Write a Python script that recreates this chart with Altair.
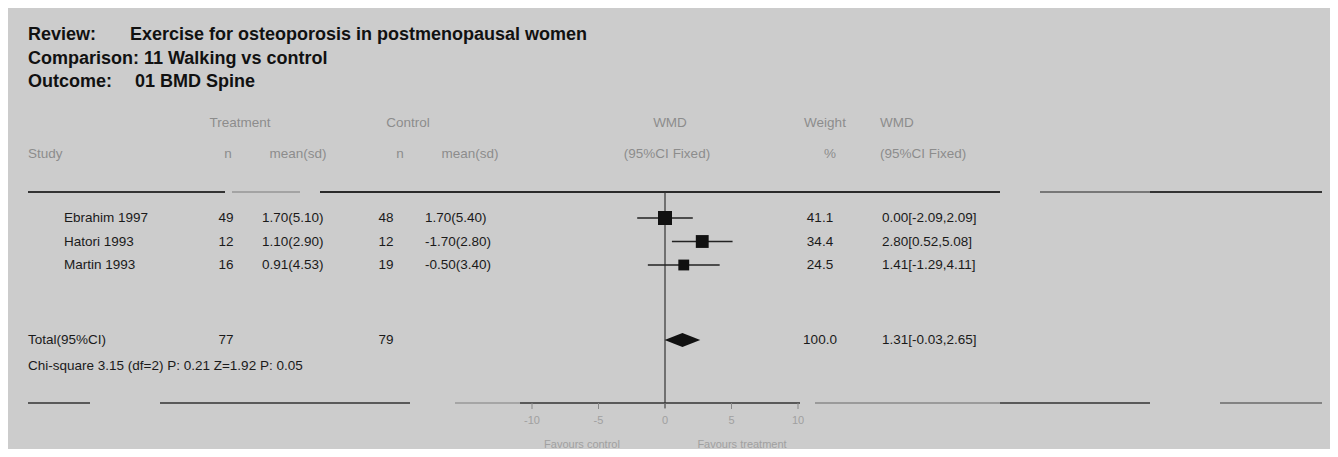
import altair as alt
import pandas as pd

# ---------------- data ----------------
studies = ["Ebrahim 1997", "Hatori 1993", "Martin 1993"]
trt_n = [49, 12, 16]
trt_mean = [1.70, 1.10, 0.91]
trt_sd = [5.10, 2.90, 4.53]
ctl_n = [48, 12, 19]
ctl_mean = [1.70, -1.70, -0.50]
ctl_sd = [5.40, 2.80, 3.40]
wmd = [0.00, 2.80, 1.41]
wmd_lo = [-2.09, 0.52, -1.29]
wmd_hi = [2.09, 5.08, 4.11]
weight = [41.1, 34.4, 24.5]

total_label = "Total(95%CI)"
total_trt_n = 77
total_ctl_n = 79
total_wmd = 1.31
total_lo = -0.03
total_hi = 2.65
total_weight = 100.0
heterogeneity = "Chi-square 3.15 (df=2) P: 0.21  Z=1.92 P: 0.05"

axis_ticks = [-10, -5, 0, 5, 10]
favours_left = "Favours control"
favours_right = "Favours treatment"

title_lines = [("Review:", "Exercise for osteoporosis in postmenopausal women"),
               ("Comparison: 11 Walking vs control", ""),
               ("Outcome:", "01 BMD Spine")]

# ---------------- layout ----------------
W, H = 1322, 441
M = 8  # page margin offset
BG = "#cccccc"
FONT = "Liberation Sans"
DARK = "#1a1a1a"
FAINT = "#8c8c8c"
BODY = 13.5

xscale = alt.Scale(domain=[-10, 10], range=[532 - M, 798 - M], nice=False, zero=False)
ROW_PX = 23.5
Y0 = 218 - M
yscale = alt.Scale(domain=[1, 3], range=[Y0, Y0 + 2 * ROW_PX], nice=False, zero=False)


def row_of(page_y):
    return 1 + (page_y - M - Y0) / ROW_PX


rows = [1, 2, 3]
total_row = row_of(340)

one = pd.DataFrame({"a": [0]})


def label(text, x, y, size=BODY, color=DARK, align="left", weight="normal"):
    return alt.Chart(pd.DataFrame({"t": [text]})).mark_text(
        align=align, baseline="middle", font=FONT, fontSize=size,
        color=color, fontWeight=weight
    ).encode(x=alt.value(x - M), y=alt.value(y - M), text="t:N")


def hrule(x1, x2, y, color="#333333", width=1.6, opacity=1.0):
    return alt.Chart(one).mark_rule(color=color, strokeWidth=width, opacity=opacity).encode(
        x=alt.value(x1 - M), x2=alt.value(x2 - M), y=alt.value(y - M))


layers = []

# titles
TS = 18
layers.append(label(title_lines[0][0], 28, 35, size=TS, color="#111111", weight="bold"))
layers.append(label(title_lines[0][1], 130, 35, size=TS, color="#111111", weight="bold"))
layers.append(label(title_lines[1][0], 28, 59, size=TS, color="#111111", weight="bold"))
layers.append(label(title_lines[2][0], 28, 82, size=TS, color="#111111", weight="bold"))
layers.append(label(title_lines[2][1], 135, 82, size=TS, color="#111111", weight="bold"))

# column headers (faint)
HS = 13.5
layers += [
    label("Treatment", 240, 123, color=FAINT, align="center", size=HS),
    label("Control", 408, 123, color=FAINT, align="center", size=HS),
    label("WMD", 670, 123, color=FAINT, align="center", size=HS),
    label("Weight", 825, 123, color=FAINT, align="center", size=HS),
    label("WMD", 880, 123, color=FAINT, size=HS),
    label("Study", 28, 154, color=FAINT, size=HS),
    label("n", 228, 154, color=FAINT, align="center", size=HS),
    label("mean(sd)", 298, 154, color=FAINT, align="center", size=HS),
    label("n", 400, 154, color=FAINT, align="center", size=HS),
    label("mean(sd)", 470, 154, color=FAINT, align="center", size=HS),
    label("(95%CI Fixed)", 667, 154, color=FAINT, align="center", size=HS),
    label("%", 830, 154, color=FAINT, align="center", size=HS),
    label("(95%CI Fixed)", 880, 154, color=FAINT, size=HS),
]

# separator lines (scanned look)
for a, b, c, o in [(28, 225, "#333333", 1.0), (232, 300, "#999999", 0.8),
                   (320, 1000, "#2a2a2a", 1.0), (1040, 1150, "#777777", 1.0),
                   (1150, 1322, "#333333", 1.0)]:
    layers.append(hrule(a, b, 192, color=c, opacity=o, width=1.8))
for a, b, c, o in [(28, 90, "#333333", 1.0), (160, 410, "#333333", 1.0),
                   (455, 520, "#999999", 1.0), (520, 800, "#333333", 1.0),
                   (815, 1000, "#8a8a8a", 1.0), (1000, 1150, "#333333", 1.0),
                   (1220, 1322, "#6a6a6a", 1.0)]:
    layers.append(hrule(a, b, 403, color=c, opacity=o, width=1.6))

# study table
tbl = pd.DataFrame({
    "row": rows,
    "study": studies,
    "tn": [str(v) for v in trt_n],
    "tms": [f"{m:.2f}({s:.2f})" for m, s in zip(trt_mean, trt_sd)],
    "cn": [str(v) for v in ctl_n],
    "cms": [f"{m:.2f}({s:.2f})" for m, s in zip(ctl_mean, ctl_sd)],
    "w": [f"{v:.1f}" for v in weight],
    "ci": [f"{e:.2f}[{l:.2f},{h:.2f}]" for e, l, h in zip(wmd, wmd_lo, wmd_hi)],
    "wmd": wmd, "lo": wmd_lo, "hi": wmd_hi, "weight": weight,
})

Y = alt.Y("row:Q", scale=yscale, axis=None)


def col(field, x, align="left"):
    return alt.Chart(tbl).mark_text(align=align, baseline="middle", font=FONT,
                                    fontSize=BODY, color=DARK).encode(
        x=alt.value(x - M), y=Y, text=f"{field}:N")


layers += [col("study", 64), col("tn", 226, "center"), col("tms", 262),
           col("cn", 386, "center"), col("cms", 425), col("w", 820, "center"),
           col("ci", 882)]

# total table
tot = pd.DataFrame({
    "row": [total_row],
    "lab": [total_label],
    "tn": [str(total_trt_n)],
    "cn": [str(total_ctl_n)],
    "w": [f"{total_weight:.1f}"],
    "ci": [f"{total_wmd:.2f}[{total_lo:.2f},{total_hi:.2f}]"],
})
for f, x, al in [("lab", 28, "left"), ("tn", 226, "center"), ("cn", 386, "center"),
                 ("w", 820, "center"), ("ci", 882, "left")]:
    layers.append(alt.Chart(tot).mark_text(align=al, baseline="middle", font=FONT,
                                           fontSize=BODY, color=DARK).encode(
        x=alt.value(x - M), y=alt.Y("row:Q", scale=yscale, axis=None), text=f"{f}:N"))

layers.append(label(heterogeneity, 28, 366))

# zero line
zero_df = pd.DataFrame({"z": [0]})
layers.append(alt.Chart(zero_df).mark_rule(color="#333333", strokeWidth=1.2).encode(
    x=alt.X("z:Q", scale=xscale, axis=None), y=alt.value(192 - M), y2=alt.value(408 - M)))

# CI lines and squares
layers.append(alt.Chart(tbl).mark_rule(color="#222222", strokeWidth=1.5).encode(
    x=alt.X("lo:Q", scale=xscale, axis=None), x2="hi:Q", y=Y))
layers.append(alt.Chart(tbl).mark_point(shape="square", filled=True, color="#111111",
                                        opacity=1).encode(
    x=alt.X("wmd:Q", scale=xscale, axis=None), y=Y,
    size=alt.Size("weight:Q", scale=alt.Scale(domain=[0, 100], range=[0, 480]), legend=None)))

# diamond
half = 7 / ROW_PX
dia = pd.DataFrame({
    "x": [total_lo, total_wmd, total_hi],
    "y1": [total_row, total_row - half, total_row],
    "y2": [total_row, total_row + half, total_row],
})
layers.append(alt.Chart(dia).mark_area(color="#111111", opacity=1, line=False).encode(
    x=alt.X("x:Q", scale=xscale, axis=None),
    y=alt.Y("y1:Q", scale=yscale, axis=None), y2="y2:Q"))

# axis ticks and labels
tk = pd.DataFrame({"v": axis_ticks, "t": [str(v) for v in axis_ticks]})
layers.append(alt.Chart(tk).mark_rule(color="#888888", strokeWidth=1).encode(
    x=alt.X("v:Q", scale=xscale, axis=None), y=alt.value(403 - M), y2=alt.value(409 - M)))
layers.append(alt.Chart(tk).mark_text(font=FONT, fontSize=11, color="#a0a0a0",
                                      baseline="middle").encode(
    x=alt.X("v:Q", scale=xscale, axis=None), y=alt.value(421 - M), text="t:N"))
layers.append(label(favours_left, 582, 445, size=11, color="#a0a0a0", align="center"))
layers.append(label(favours_right, 742, 445, size=11, color="#a0a0a0", align="center"))

chart = alt.layer(*layers).properties(
    width=W, height=H, padding=0, autosize="none", background=BG
).configure_view(strokeWidth=0, fill=BG)

chart.save("out.html", embed_options={"renderer": "svg", "actions": False})
